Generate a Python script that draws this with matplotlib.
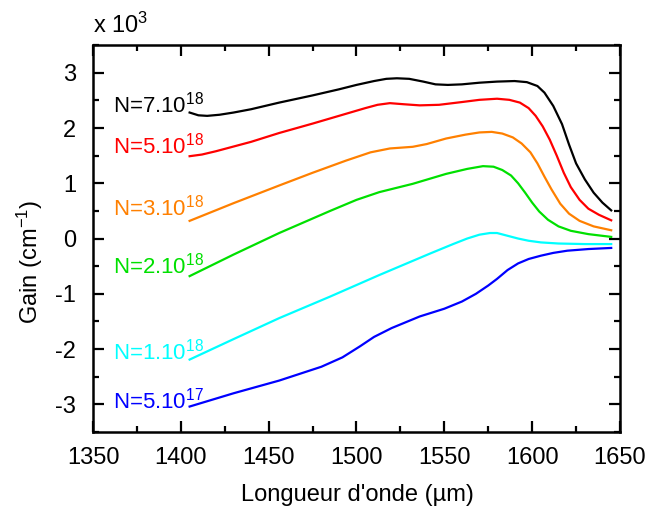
import matplotlib
matplotlib.use('Agg')
import matplotlib.pyplot as plt
from matplotlib.ticker import MultipleLocator

plt.rcParams['font.family'] = ['Liberation Sans', 'DejaVu Sans']
plt.rcParams['mathtext.fontset'] = 'custom'
plt.rcParams['mathtext.rm'] = 'Liberation Sans'
plt.rcParams['mathtext.it'] = 'Liberation Sans'

# gain in units of 10^3 cm^-1
wl_black = [1405, 1410, 1415, 1422, 1430, 1440, 1456, 1475, 1490, 1500, 1510, 1517, 1523, 1530, 1538, 1545,
            1552, 1560, 1570, 1580, 1590, 1597, 1603, 1607, 1612, 1617, 1621, 1625, 1630, 1635, 1640, 1645]
g_black = [2.28, 2.23, 2.22, 2.24, 2.28, 2.34, 2.46, 2.59, 2.70, 2.78, 2.85, 2.89, 2.90, 2.89, 2.84, 2.79,
           2.78, 2.79, 2.82, 2.84, 2.85, 2.83, 2.76, 2.64, 2.40, 2.07, 1.70, 1.36, 1.07, 0.83, 0.65, 0.51]

wl_red = [1405, 1412, 1420, 1440, 1456, 1475, 1490, 1505, 1512, 1519, 1527, 1536, 1547, 1560, 1570, 1580,
          1587, 1593, 1598, 1602, 1606, 1610, 1614, 1618, 1622, 1627, 1632, 1638, 1645]
g_red = [1.49, 1.52, 1.58, 1.75, 1.91, 2.08, 2.22, 2.36, 2.42, 2.45, 2.43, 2.41, 2.42, 2.47, 2.51, 2.53,
         2.51, 2.46, 2.36, 2.22, 2.03, 1.79, 1.50, 1.19, 0.93, 0.70, 0.54, 0.43, 0.33]

wl_orange = [1405, 1430, 1456, 1475, 1494, 1508, 1519, 1532, 1540, 1551, 1562, 1570, 1577, 1583, 1589,
             1594, 1599, 1603, 1607, 1611, 1616, 1621, 1627, 1635, 1645]
g_orange = [0.32, 0.64, 0.96, 1.19, 1.41, 1.56, 1.63, 1.66, 1.71, 1.81, 1.88, 1.92, 1.93, 1.90, 1.83,
            1.72, 1.56, 1.36, 1.12, 0.89, 0.63, 0.45, 0.32, 0.22, 0.15]

wl_green = [1405, 1430, 1456, 1485, 1500, 1513, 1532, 1551, 1563, 1572, 1578, 1583, 1588, 1592, 1596,
            1600, 1604, 1609, 1615, 1622, 1632, 1645]
g_green = [-0.68, -0.29, 0.10, 0.50, 0.70, 0.84, 0.99, 1.17, 1.26, 1.31, 1.30, 1.24, 1.14, 1.00, 0.83,
           0.65, 0.49, 0.34, 0.22, 0.14, 0.08, 0.03]

wl_cyan = [1405, 1430, 1456, 1485, 1513, 1542, 1555, 1563, 1570, 1576, 1580, 1586, 1592, 1598, 1605,
           1615, 1630, 1645]
g_cyan = [-2.19, -1.82, -1.44, -1.05, -0.66, -0.27, -0.10, 0.00, 0.07, 0.10, 0.10, 0.05, 0.00, -0.04, -0.07,
          -0.09, -0.10, -0.10]

wl_blue = [1405, 1430, 1456, 1480, 1492, 1502, 1510, 1520, 1536, 1550, 1560, 1568, 1575, 1580, 1586,
           1592, 1598, 1605, 1612, 1620, 1632, 1645]
g_blue = [-3.04, -2.80, -2.57, -2.32, -2.15, -1.95, -1.78, -1.62, -1.41, -1.27, -1.14, -1.00, -0.85, -0.73, -0.57,
          -0.45, -0.37, -0.31, -0.26, -0.22, -0.19, -0.17]

labels = [r'N=7.10$^{18}$', r'N=5.10$^{18}$', r'N=3.10$^{18}$',
          r'N=2.10$^{18}$', r'N=1.10$^{18}$', r'N=5.10$^{17}$']
label_y = [2.43, 1.69, 0.56, -0.48, -2.05, -2.93]
colors = ['black', '#ff0000', '#ff8000', '#00e000', '#00ffff', '#0000ff']

series = [(wl_black, g_black), (wl_red, g_red), (wl_orange, g_orange),
          (wl_green, g_green), (wl_cyan, g_cyan), (wl_blue, g_blue)]

fig = plt.figure(figsize=(6.49, 5.07), dpi=100)
ax = fig.add_axes([0.1433, 0.148, 0.812, 0.763])

for (x, y), c, lab, ly in zip(series, colors, labels, label_y):
    ax.plot(x, y, color=c, lw=1.6)
    ax.text(1361.5, ly, lab, color=c, fontsize=16, va='center', ha='left')

ax.set_xlim(1350, 1650)
ax.set_ylim(-3.5, 3.5)
ax.xaxis.set_major_locator(MultipleLocator(50))
ax.xaxis.set_minor_locator(MultipleLocator(25))
ax.yaxis.set_minor_locator(MultipleLocator(0.5))
ax.set_yticks([-3, -2, -1, 0, 1, 2, 3])
ax.set_yticklabels(['-3', '-2', '-1', '0', '1', '2', '3'])

ax.tick_params(which='both', direction='in', top=True, right=True, width=1.6, labelsize=17)
ax.tick_params(which='major', length=8)
ax.tick_params(axis='x', which='major', pad=11)
ax.tick_params(axis='y', which='major', pad=12)
ax.tick_params(which='minor', length=4.5)
for s in ax.spines.values():
    s.set_linewidth(1.8)

# axis titles placed like in the original (y title sits below centre, x title at the bottom edge)
fig.text(357 / 649, 0.012, "Longueur d'onde (µm)", fontsize=17, ha='center', va='baseline')
fig.text(30 / 649, 0.483, r'Gain (cm$^{-1}$)', fontsize=17, ha='center', va='center', rotation=90)
ax.text(0.0, 1.031, r'x 10$^3$', transform=ax.transAxes, fontsize=17, va='baseline', ha='left')

fig.savefig('out.png', dpi=100)
